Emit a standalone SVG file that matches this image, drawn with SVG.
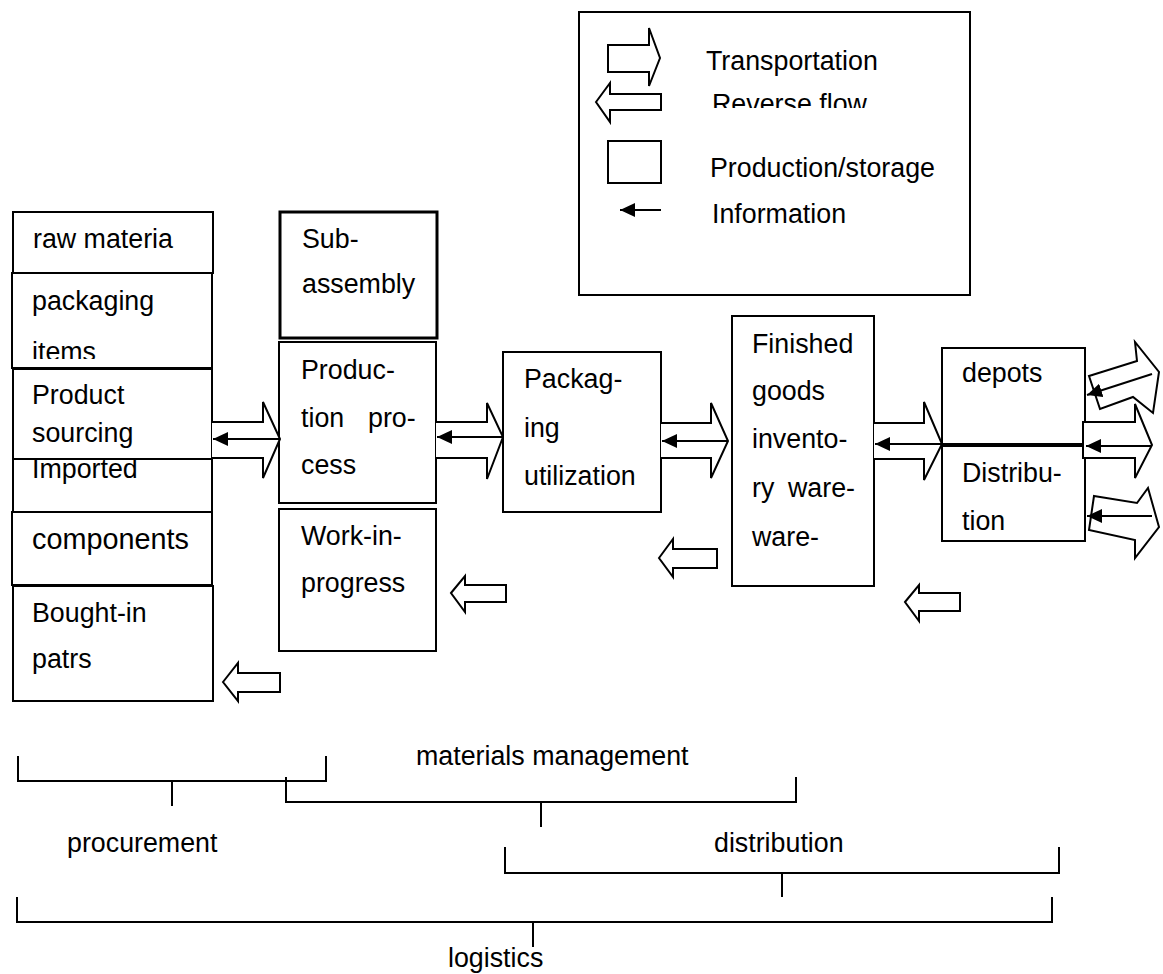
<svg xmlns="http://www.w3.org/2000/svg" width="1163" height="974" viewBox="0 0 1163 974">
<style>
text{font-family:"Liberation Sans",Arial,sans-serif;font-size:26.8px;fill:#000}
.box{fill:#fff;stroke:#000;stroke-width:2}
.thick{stroke-width:3}
.ta{fill:#fff;stroke:#000;stroke-width:2;stroke-linejoin:miter}
.info{stroke:#000;stroke-width:2;fill:none;marker-end:url(#ah)}
.br{fill:none;stroke:#000;stroke-width:2}
</style>
<defs>
<marker id="ah" markerUnits="userSpaceOnUse" markerWidth="16" markerHeight="14" refX="15" refY="7" orient="auto">
<path d="M0,0 L15,7 L0,14 z" fill="#000"/>
</marker>
<clipPath id="clipItems"><rect x="0" y="300" width="220" height="59"/></clipPath>
<clipPath id="clipRev"><rect x="700" y="80" width="200" height="28"/></clipPath>
</defs>
<rect width="1163" height="974" fill="#fff"/>

<g id="legend">
<rect class="box" x="579" y="12" width="391" height="283"/>
<polygon class="ta" points="608,45 649,45 649,28 660,58 649,86 649,72 608,72"/>
<text x="706" y="70">Transportation</text>
<polygon class="ta" points="596,102 610,83 610,94 661,94 661,110 610,110 610,122"/>
<text x="712" y="113" clip-path="url(#clipRev)">Reverse flow</text>
<rect class="box" x="608" y="141" width="53" height="42"/>
<text x="710" y="177">Production/storage</text>
<line class="info" x1="661" y1="210" x2="620" y2="210"/>
<text x="712" y="223">Information</text>
</g>

<g id="raw-materia">
<rect class="box" x="13" y="212" width="200" height="61"/>
<text x="33" y="248">raw materia</text>
</g>
<g id="packaging-items">
<rect class="box" x="12" y="273" width="200" height="95"/>
<text x="32" y="310">packaging</text>
<text x="32" y="361" clip-path="url(#clipItems)">items</text>
</g>
<g id="imported">
<rect class="box" x="13" y="459" width="199" height="53"/>
<text x="32" y="478">Imported</text>
</g>
<g id="product-sourcing">
<rect class="box" x="13" y="369" width="199" height="90"/>
<text x="32" y="404">Product</text>
<text x="32" y="442">sourcing</text>
</g>
<g id="components">
<rect class="box" x="12" y="512" width="200" height="73"/>
<text x="32" y="549" style="font-size:28.8px">components</text>
</g>
<g id="bought-in">
<rect class="box" x="13" y="586" width="200" height="115"/>
<text x="32" y="622">Bought-in</text>
<text x="32" y="668">patrs</text>
</g>

<g id="sub-assembly">
<rect class="box thick" x="280" y="212" width="157" height="126"/>
<text x="302" y="248">Sub-</text>
<text x="302" y="293">assembly</text>
</g>
<g id="production-process">
<rect class="box" x="279" y="342" width="157" height="161"/>
<text x="301" y="379">Produc-</text>
<text x="301" y="427">tion</text>
<text x="368" y="427">pro-</text>
<text x="301" y="474">cess</text>
</g>
<g id="work-in-progress">
<rect class="box" x="279" y="509" width="157" height="142"/>
<text x="301" y="545">Work-in-</text>
<text x="301" y="592">progress</text>
</g>

<g id="packaging-utilization">
<rect class="box" x="503" y="352" width="158" height="160"/>
<text x="524" y="388">Packag-</text>
<text x="524" y="437">ing</text>
<text x="524" y="485">utilization</text>
</g>

<g id="finished-goods">
<rect class="box" x="732" y="316" width="142" height="270"/>
<text x="752" y="353">Finished</text>
<text x="752" y="400">goods</text>
<text x="752" y="448">invento-</text>
<text x="752" y="497">ry</text>
<text x="788" y="497">ware-</text>
<text x="752" y="546">ware-</text>
</g>

<g id="depots">
<rect class="box" x="942" y="348" width="143" height="96"/>
<text x="962" y="382">depots</text>
</g>
<g id="distribution-node">
<rect class="box" x="942" y="446" width="143" height="95"/>
<text x="962" y="482">Distribu-</text>
<text x="962" y="530">tion</text>
</g>

<g id="connectors">
<polyline class="ta" points="212,422 263,422 263,402 280,439 263,478 263,458 212,458"/>
<line class="info" x1="280" y1="439" x2="213" y2="439"/>
<polyline class="ta" points="436,422 487,422 487,403 503,437 487,479 487,458 436,458"/>
<line class="info" x1="503" y1="437" x2="437" y2="437"/>
<polyline class="ta" points="661,423 711,423 711,403 728,441 711,478 711,458 661,458"/>
<line class="info" x1="728" y1="441" x2="662" y2="441"/>
<polyline class="ta" points="874,423 924,423 924,402 942,444 924,480 924,459 874,459"/>
<line class="info" x1="942" y1="444" x2="875" y2="444"/>
<polygon class="ta" points="1083,422 1135,422 1135,404 1152,445 1135,478 1135,458 1083,458"/>
<line class="info" x1="1152" y1="446" x2="1086" y2="446"/>
<polygon class="ta" points="1089,376 1137,361 1135,342 1159,372 1153,413 1133,397 1100,409"/>
<line class="info" x1="1152" y1="374" x2="1087" y2="395"/>
<polygon class="ta" points="1094,496 1137,503 1148,488 1159,527 1135,558 1135,540 1089,530"/>
<line class="info" x1="1152" y1="516" x2="1087" y2="516"/>
<polygon class="ta" points="223,682 238,663 238,673 280,673 280,692 238,692 238,701"/>
<polygon class="ta" points="451,593 465,576 465,585 506,585 506,602 465,602 465,612"/>
<polygon class="ta" points="659,558 673,539 673,549 717,549 717,568 673,568 673,577"/>
<polygon class="ta" points="905,602 919,585 919,593 960,593 960,611 919,611 919,621"/>
</g>

<g id="brackets">
<polyline class="br" points="18,756 18,781 326,781 326,756"/>
<line class="br" x1="172" y1="781" x2="172" y2="806"/>
<polyline class="br" points="286,777 286,802 796,802 796,777"/>
<line class="br" x1="541" y1="802" x2="541" y2="827"/>
<polyline class="br" points="505,847 505,873 1059,873 1059,847"/>
<line class="br" x1="782" y1="873" x2="782" y2="897"/>
<polyline class="br" points="17,897 17,922 1052,922 1052,897"/>
<line class="br" x1="533" y1="922" x2="533" y2="947"/>
<text x="416" y="765">materials management</text>
<text x="67" y="852">procurement</text>
<text x="714" y="852">distribution</text>
<text x="448" y="967">logistics</text>
</g>
</svg>
